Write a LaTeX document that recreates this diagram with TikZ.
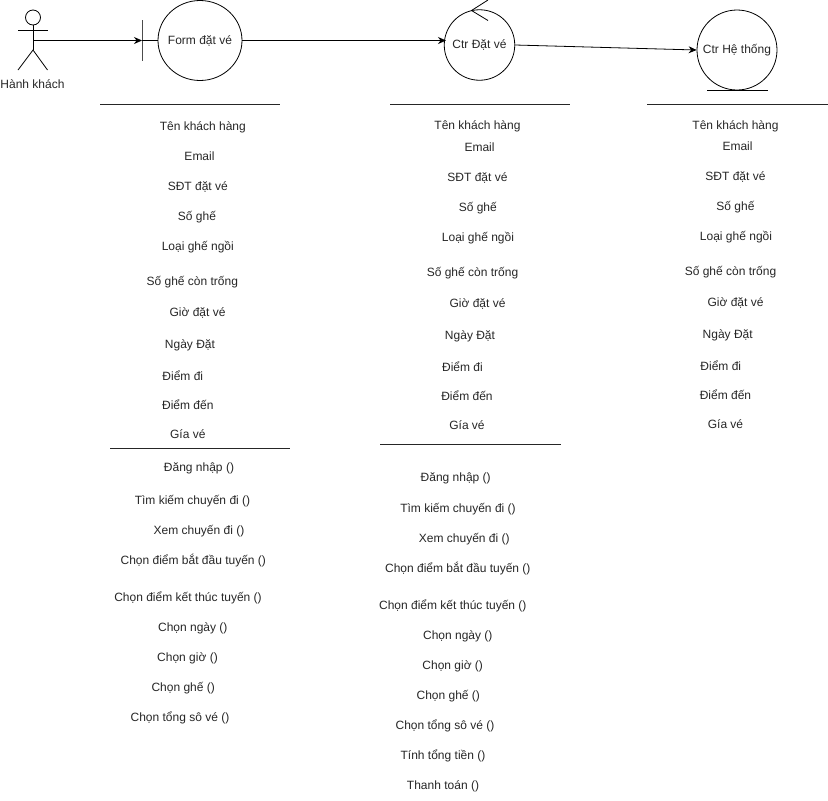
\documentclass[tikz,border=0pt]{standalone}
\usepackage{fontspec}
\setmainfont{Liberation Sans}
\usetikzlibrary{arrows.meta}
\tikzset{
  lbl/.style={anchor=base,inner sep=0pt,yshift=-1.2pt,font=\fontsize{12}{14}\selectfont,text=black!85},
  obj/.style={circle,draw=black,line width=0.8pt,inner sep=0pt,font=\fontsize{12}{14}\selectfont,text=black!85},
  conn/.style={draw=black,line width=0.8pt,-{Stealth[length=8pt,width=7pt]}},
  plain/.style={draw=black,line width=0.8pt},
  rule/.style={draw=black!85,line width=1pt}
}
\begin{document}
\begin{tikzpicture}[x=1pt,y=-1pt]
\useasboundingbox (0,0) rectangle (828,801);
% actor
\node[circle,draw=black,line width=0.8pt,minimum size=15pt,inner sep=0pt] (head) at (33,17.5) {};
\coordinate (hip) at (33,50);
\coordinate (armL) at (18,30);
\coordinate (armR) at (47.5,30);
\coordinate (legL) at (18,70);
\coordinate (legR) at (47.5,70);
\coordinate (chest) at (33,40.5);
\draw[plain] (head.south) -- (hip);
\draw[plain] (armL) -- (armR);
\draw[plain] (legL) -- (hip) -- (legR);
\node[lbl] (actorlabel) at (32.5,87) {Hành khách};
% objects
\coordinate (bTop) at (142,20);
\coordinate (bBot) at (142,60.5);
\coordinate (bMid) at (142,40.5);
\draw[draw=black!70,line width=1pt] (bTop) -- (bBot);
\node[inner sep=0pt,font=\fontsize{12}{14}\selectfont,text=black!85] (form) at (200,40.5) {Form đặt vé};
\draw[plain] (form.center) ellipse [x radius=42pt,y radius=40pt];
\coordinate (formW) at (158,40.5);
\coordinate (formE) at (242,40.5);
\draw[plain] (bMid) -- (formW);
\node[obj,minimum size=70.5pt] (ctr) at (479.5,45) {Ctr Đặt vé};
\coordinate (cA) at (488,0);
\coordinate (cB) at (471.5,10.5);
\coordinate (cC) at (488,20.5);
\draw[plain] (cA) -- (cB) -- (cC);
\node[obj,minimum size=80pt] (sys) at (737,50) {Ctr Hệ thống};
\coordinate (sL) at (707,90);
\coordinate (sR) at (768,90);
\draw[plain] (sL) -- (sR);
% connectors
\coordinate (ctrIn) at (446,40.5);
\draw[conn] (chest) -- (bMid);
\draw[conn] (formE) -- (ctrIn);
\draw[conn] (ctr.east) -- (sys.west);
% rules
\coordinate (r1a) at (100,104); \coordinate (r1b) at (279.5,104);
\coordinate (r2a) at (110,448); \coordinate (r2b) at (289.5,448);
\coordinate (r3a) at (390,104); \coordinate (r3b) at (569.5,104);
\coordinate (r4a) at (380,444); \coordinate (r4b) at (561,444);
\coordinate (r5a) at (647,104); \coordinate (r5b) at (828,104);
\draw[rule] (r1a) -- (r1b);
\draw[rule] (r2a) -- (r2b);
\draw[rule] (r3a) -- (r3b);
\draw[rule] (r4a) -- (r4b);
\draw[rule] (r5a) -- (r5b);
% column 1
\foreach \n/\x/\y/\t in {a1/202.8/129/Tên khách hàng,a2/199.5/159/Email,a3/197.8/189/SĐT đặt vé,a4/197/219/Số ghế,a5/197.8/249/Loại ghế ngồi,a6/192.3/284/Số ghế còn trống,a7/197.5/315/Giờ đặt vé,a8/190/347/Ngày Đặt,a9/182.8/379/Điểm đi,a10/187.8/408/Điểm đến,a11/187.8/437/Gía vé,
 m1/199/470/Đăng nhập (),m2/192.5/503/Tìm kiếm chuyến đi (),m3/199/533/Xem chuyến đi (),m4/193.3/563/Chọn điểm bắt đầu tuyến (),m5/188/600/Chọn điểm kết thúc tuyến (),m6/192.8/630/Chọn ngày (),m7/187.5/660/Chọn giờ (),m8/183.2/690/Chọn ghế (),m9/180/720/Chọn tổng sô vé ()}
  \node[lbl] (\n) at (\x,\y) {\t};
% column 2
\foreach \n/\x/\y/\t in {b1/477.5/128/Tên khách hàng,b2/479.5/150/Email,b3/477.5/180/SĐT đặt vé,b4/477.8/210/Số ghế,b5/478/240/Loại ghế ngồi,b6/472.5/275/Số ghế còn trống,b7/477.5/306/Giờ đặt vé,b8/470/338/Ngày Đặt,b9/462.5/370/Điểm đi,b10/467/399/Điểm đến,b11/467/428/Gía vé,
 n1/455.7/480/Đăng nhập (),n2/458/511/Tìm kiếm chuyến đi (),n3/464.3/541/Xem chuyến đi (),n4/457.8/571/Chọn điểm bắt đầu tuyến (),n5/452.8/608/Chọn điểm kết thúc tuyến (),n6/457.8/638/Chọn ngày (),n7/452.7/668/Chọn giờ (),n8/448.3/698/Chọn ghế (),n9/445/728/Chọn tổng sô vé (),n10/443/758/Tính tổng tiền (),n11/443/788/Thanh toán ()}
  \node[lbl] (\n) at (\x,\y) {\t};
% column 3
\foreach \n/\x/\y/\t in {c1/735.5/128/Tên khách hàng,c2/737.5/149/Email,c3/735.5/179/SĐT đặt vé,c4/735.5/209/Số ghế,c5/736/239/Loại ghế ngồi,c6/730.5/274/Số ghế còn trống,c7/735.5/305/Giờ đặt vé,c8/727.7/337/Ngày Đặt,c9/720.8/369/Điểm đi,c10/725.5/398/Điểm đến,c11/725.5/427/Gía vé}
  \node[lbl] (\n) at (\x,\y) {\t};
\end{tikzpicture}
\end{document}
